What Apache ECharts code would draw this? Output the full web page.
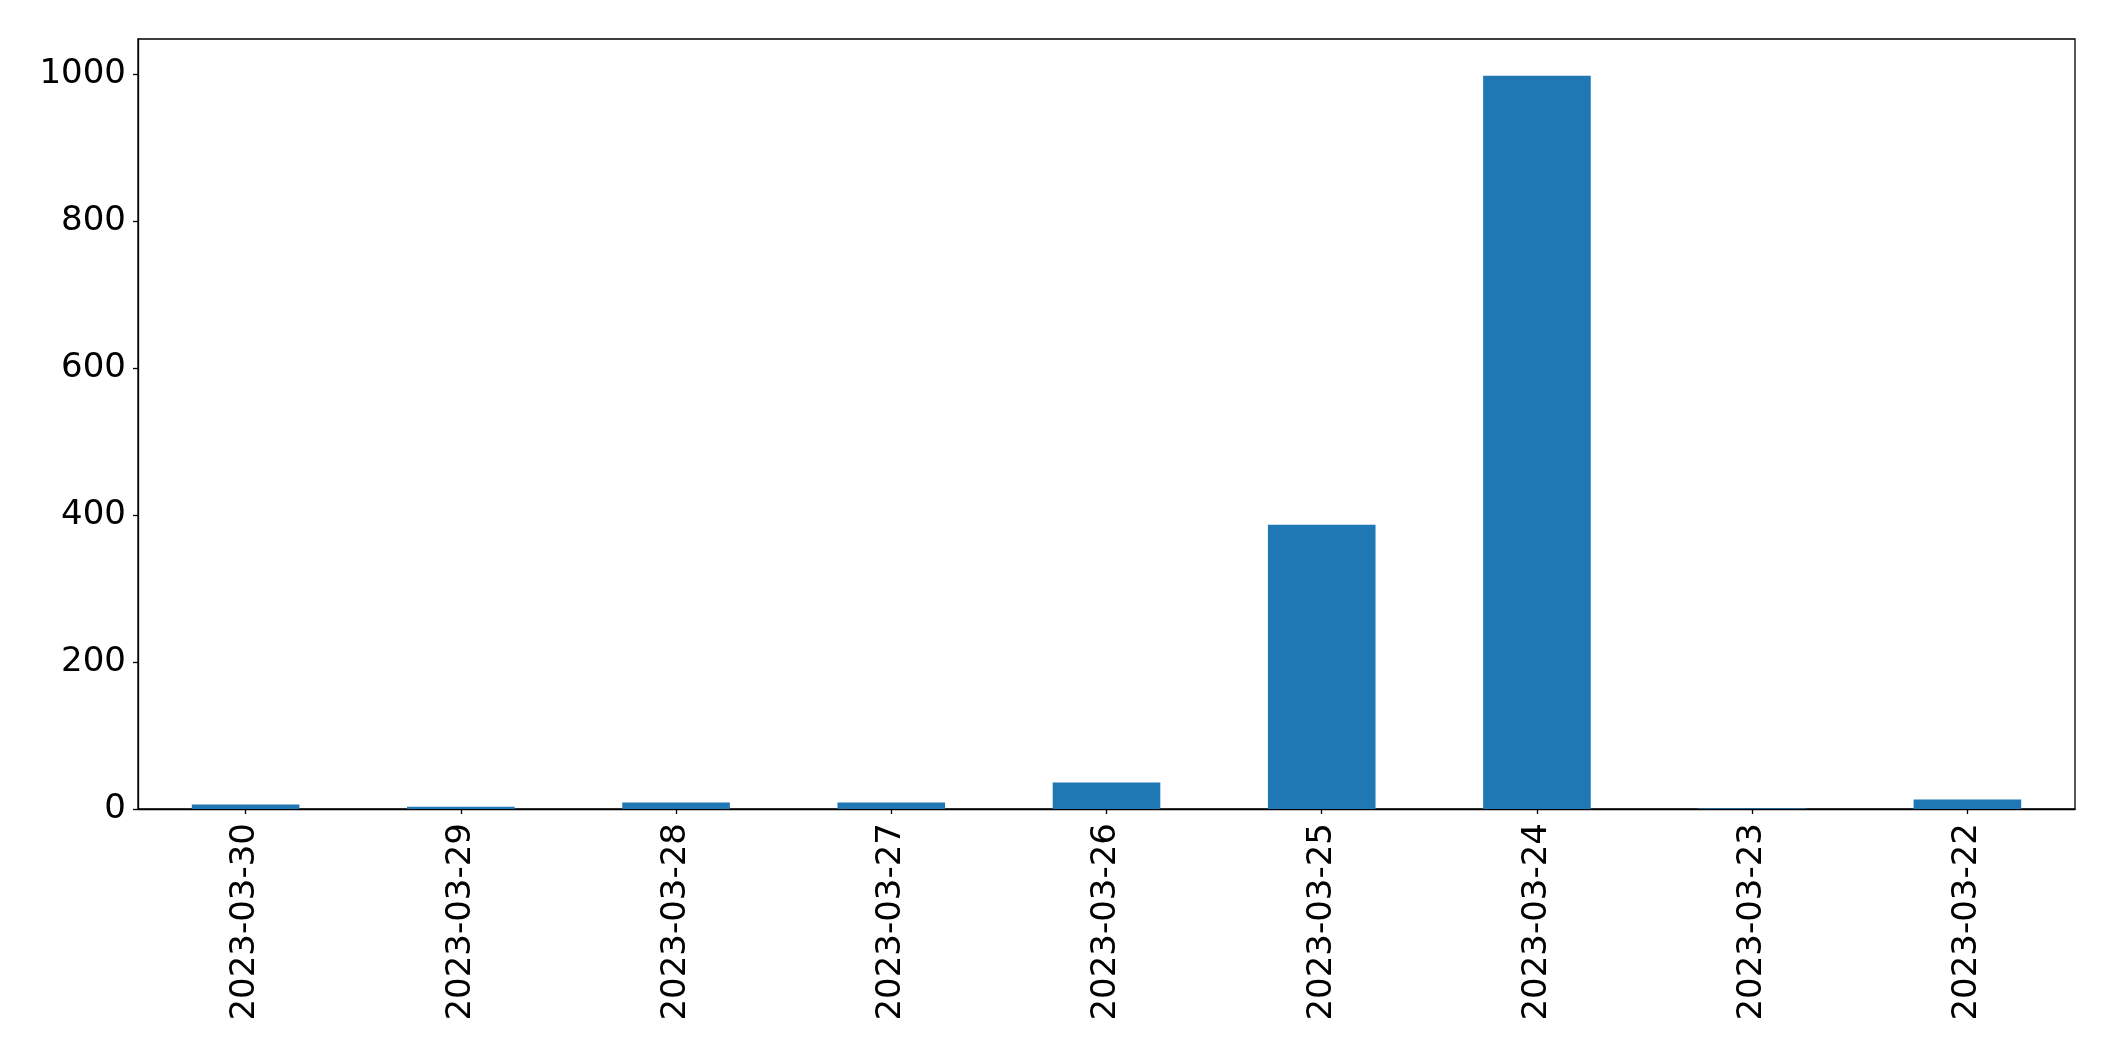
<!DOCTYPE html>
<html>
<head>
<meta charset="utf-8">
<script src="https://cdn.jsdelivr.net/npm/echarts@6/dist/echarts.min.js"></script>
<style>
html,body{margin:0;padding:0;background:#fff;}
#chart{width:2115px;height:1061px;}
</style>
</head>
<body>
<div id="chart"></div>
<script>
const categories = ["2023-03-30","2023-03-29","2023-03-28","2023-03-27","2023-03-26","2023-03-25","2023-03-24","2023-03-23","2023-03-22"];
const values = [6, 3, 9, 9, 36, 387, 998, 1, 13];
const yTicks = [0, 200, 400, 600, 800, 1000];

const chart = echarts.init(document.getElementById('chart'));
chart.setOption({
  animation: false,
  backgroundColor: '#ffffff',
  grid: {
    left: 138, top: 39, right: 40, bottom: 252,
    show: true, borderColor: '#000', borderWidth: 1.3, backgroundColor: 'transparent'
  },
  xAxis: {
    type: 'category',
    data: categories,
    axisLine: { show: true, lineStyle: { color: '#000', width: 1.3 } },
    axisTick: { show: true, alignWithLabel: true, length: 5, lineStyle: { color: '#000', width: 1.3 } },
    axisLabel: {
      rotate: 90, margin: 14, color: '#000',
      fontFamily: 'DejaVu Sans', fontSize: 34, interval: 0
    },
    splitLine: { show: false }
  },
  yAxis: {
    type: 'value',
    min: 0,
    max: 1048,
    interval: 200,
    axisLine: { show: true, lineStyle: { color: '#000', width: 1.3 } },
    axisTick: { show: true, length: 5, customValues: yTicks, lineStyle: { color: '#000', width: 1.3 } },
    axisLabel: {
      customValues: yTicks, margin: 12, color: '#000',
      fontFamily: 'DejaVu Sans', fontSize: 34,
      formatter: function (v) { return String(v); }
    },
    splitLine: { show: false }
  },
  series: [{
    type: 'bar',
    data: values,
    barWidth: '50%',
    itemStyle: { color: '#1f77b4' }
  }]
});
</script>
</body>
</html>
